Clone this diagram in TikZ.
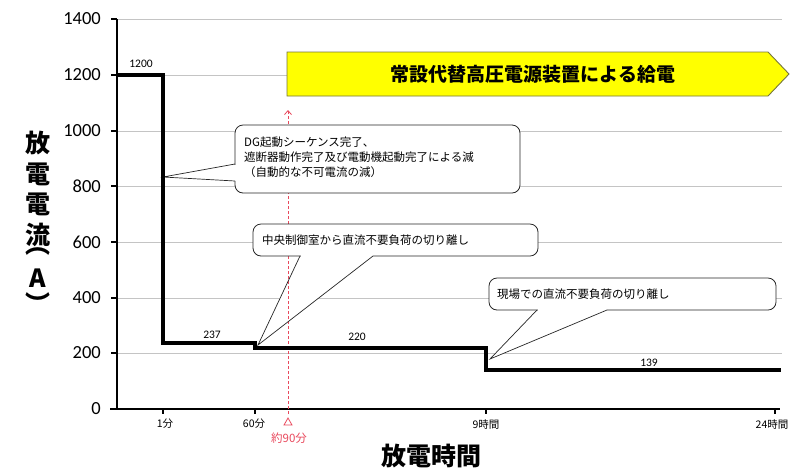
\documentclass[tikz,border=0pt]{standalone}
\usepackage{fontspec}
\setmainfont{Carlito}
\newfontfamily\jp{Noto Sans CJK JP}
\usetikzlibrary{arrows.meta}
\definecolor{gridc}{RGB}{196,196,196}
\definecolor{redc}{RGB}{232,72,92}
\definecolor{bannerc}{RGB}{255,255,0}
\definecolor{bannerd}{RGB}{118,118,60}
\begin{document}
\begin{tikzpicture}[x=1pt,y=-1pt,
  gridline/.style={draw=gridc,line width=0.9pt},
  axisline/.style={draw=black,line width=1.2pt},
  ticklab/.style={font=\fontsize{18.5}{20}\selectfont,anchor=east,inner sep=0pt},
  xlab/.style={font=\jp\fontsize{10.5}{12}\selectfont,inner sep=0pt},
  vallab/.style={font=\fontsize{11.5}{13}\selectfont,inner sep=0pt},
  curveline/.style={draw=black,line width=3.2pt},
  cbox/.style={draw=black!85,line width=0.8pt,fill=white,rounded corners=8pt},
  cptr/.style={draw=black!85,line width=0.7pt},
  ctext/.style={font=\jp\fontsize{11.5}{15}\selectfont,align=left,anchor=west,inner sep=0pt},
  ytitle/.style={font=\jp\bfseries\fontsize{25}{26}\selectfont,inner sep=0pt},
  redline/.style={draw=redc,line width=0.8pt,dash pattern=on 3pt off 2pt}
]
\useasboundingbox (0,0) rectangle (791,475);

% grid
\foreach \yy in {19,75,131,186,242,298,353}
  \draw[gridline] (117,\yy) -- (782,\yy);

% y tick labels
\node[ticklab] (y1400) at (101,19) {1400};
\node[ticklab] (y1200) at (101,75) {1200};
\node[ticklab] (y1000) at (101,131) {1000};
\node[ticklab] (y800) at (101,186) {800};
\node[ticklab] (y600) at (101,242) {600};
\node[ticklab] (y400) at (101,298) {400};
\node[ticklab] (y200) at (101,353) {200};
\node[ticklab] (y0) at (101,409) {0};

% axes
\draw[axisline] (117,19) -- (117,409);
\draw[axisline] (110,409) -- (780,409);
\foreach \yy in {19,75,131,186,242,298,353}
  \draw[axisline] (111,\yy) -- (117,\yy);
\foreach \xx in {163,255,486,775}
  \draw[axisline] (\xx,409) -- (\xx,414);

% x tick labels
\node[xlab] (x1) at (165,424) {1分};
\node[xlab] (x60) at (254,424) {60分};
\node[xlab] (x9) at (486,424) {9時間};
\node[xlab] (x24) at (772,424) {24時間};

% callout pointers (fills)
\coordinate (t1) at (163,177);
\coordinate (t2) at (258,345);
\coordinate (t3) at (490,359);
\fill[white] (236,164) -- (t1) -- (236,181) -- cycle;
\fill[white] (300,255) -- (t2) -- (373,255) -- cycle;
\fill[white] (537,309) -- (t3) -- (607,309) -- cycle;

% red dashed marker
\draw[redline,-{Straight Barb[length=4pt,width=7pt]}] (288,414) -- (288,110);
\draw[draw=redc,line width=0.8pt] (284,425) -- (292,425) -- (288,418) -- cycle;
\node[font=\jp\fontsize{11.5}{13}\selectfont,text=redc,inner sep=0pt] (m90) at (289,438) {約90分};

% callout 1
\draw[cbox] (235,125) rectangle (520,193);
\fill[white] (234,164.5) rectangle (236.5,180.5);
\draw[cptr] (235,164) -- (t1) -- (235,181);
\node[ctext] (c1) at (244,157) {DG起動シーケンス完了、\\遮断器動作完了及び電動機起動完了による減\\（自動的な不可電流の減）};

% callout 2
\draw[cbox] (253,224) rectangle (538,256);
\fill[white] (300.5,255) rectangle (372.5,257);
\draw[cptr] (300,256) -- (t2) -- (373,256);
\node[ctext] (c2) at (262,240) {中央制御室から直流不要負荷の切り離し};

% callout 3
\draw[cbox] (489,278) rectangle (776,310);
\fill[white] (537.5,309) rectangle (606.5,311);
\draw[cptr] (537,310) -- (t3) -- (607,310);
\node[ctext] (c3) at (497,294) {現場での直流不要負荷の切り離し};

% curve
\draw[curveline] (117,75) -- (163,75) -- (163,343) -- (255,343) -- (255,348) -- (486,348) -- (486,370) -- (781,370);

% value labels
\node[vallab] (v1200) at (141,64) {1200};
\node[vallab] (v237) at (212,335) {237};
\node[vallab] (v220) at (357,337) {220};
\node[vallab] (v139) at (649,363) {139};

% banner
\draw[fill=bannerc,draw=bannerd,line width=0.9pt] (287,52) -- (768,52) -- (789,74) -- (768,96) -- (287,96) -- cycle;
\node[font=\jp\bfseries\fontsize{19}{21}\selectfont,inner sep=0pt] (ban) at (533,74) {常設代替高圧電源装置による給電};

% axis titles
\node[ytitle] (yt1) at (38,143) {放};
\node[ytitle] (yt2) at (38,174) {電};
\node[ytitle] (yt3) at (38,204) {電};
\node[ytitle] (yt4) at (38,235) {流};
\node[ytitle,text height=6pt,text depth=0pt] (yt5) at (38,256) {\raisebox{6pt}{︵}};
\node[ytitle] (yt6) at (38,278) {A};
\node[ytitle,text height=6pt,text depth=0pt] (yt7) at (38,296) {\raisebox{-14pt}{︶}};
\node[ytitle] (xt) at (431,456) {放電時間};
\end{tikzpicture}
\end{document}
